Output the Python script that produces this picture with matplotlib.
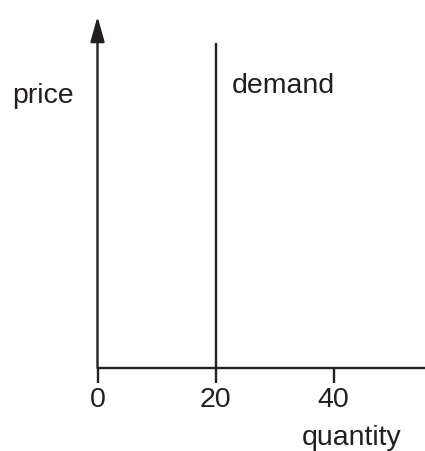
import matplotlib
matplotlib.use("Agg")
import matplotlib.pyplot as plt

# Data
x_ticks = [0, 20, 40]
x_tick_labels = ["0", "20", "40"]
demand_quantity = [20, 20]
demand_price = [0, 92.6]
x_max = 55.5
y_max = 100

ink = "#231f20"
plt.rcParams['font.family'] = ['Liberation Sans', 'DejaVu Sans']

W, H = 425, 451
fig = plt.figure(figsize=(W / 100, H / 100), dpi=100)
left, bottom = 97.5 / W, (H - 368) / H
ax = fig.add_axes([left, bottom, (W - 97.5) / W, (368 - 16.5) / H])
ax.set_xlim(0, x_max)
ax.set_ylim(0, y_max)

for s in ['top', 'right', 'left']:
    ax.spines[s].set_visible(False)
ax.spines['bottom'].set_linewidth(1.7)
ax.spines['bottom'].set_color(ink)
ax.spines['bottom'].set_capstyle('butt')

# y axis with arrow
ax.annotate('', xy=(0, 1), xytext=(0, 0), xycoords='axes fraction',
            arrowprops=dict(arrowstyle='-|>,head_length=1.53,head_width=0.43',
                            mutation_scale=10, lw=1.7, color=ink,
                            shrinkA=0, shrinkB=0))

ax.set_xticks(x_ticks)
ax.set_xticklabels(x_tick_labels)
ax.set_yticks([])
ax.tick_params(axis='x', length=10.8, width=1.7, color=ink, labelsize=20.5,
               labelcolor=ink, pad=3)

ax.plot(demand_quantity, demand_price, color=ink, lw=1.7, solid_capstyle='butt',
        clip_on=False)

fig.text(12 / W, (H - 103) / H, "price", fontsize=20.5, color=ink, va='baseline', ha='left')
fig.text(232 / W, (H - 93) / H, "demand", fontsize=20.5, color=ink, va='baseline', ha='left')
fig.text(301.5 / W, (H - 445) / H, "quantity", fontsize=20.5, color=ink, va='baseline', ha='left')

fig.savefig("out.png", dpi=100)
